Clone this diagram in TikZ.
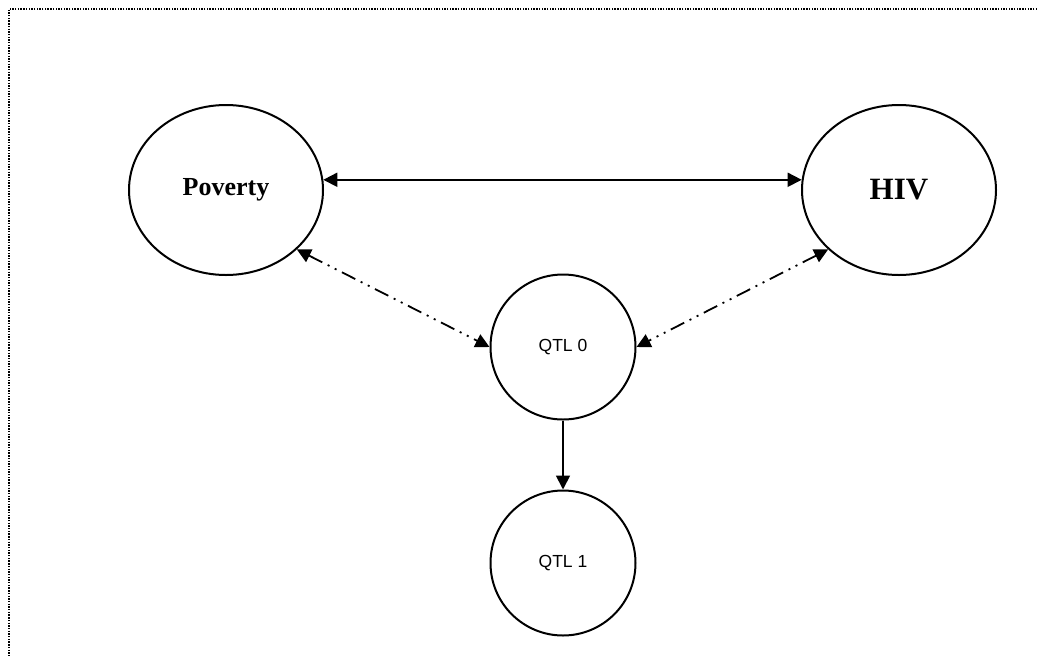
\documentclass[tikz,border=0pt]{standalone}
\usepackage{fontspec}
\setmainfont{Liberation Serif}
\newfontfamily\qtlfont{Liberation Sans}
\usetikzlibrary{shapes.geometric,arrows.meta}
\begin{document}
\begin{tikzpicture}[x=1pt,y=-1pt,
  bigell/.style={draw,line width=2pt,ellipse,inner sep=0pt,minimum width=194pt,minimum height=170pt,font=\bfseries},
  qtl/.style={draw,line width=2pt,circle,inner sep=0pt,minimum size=145pt,font=\qtlfont\fontsize{17.5}{20}\selectfont},
  link/.style={line width=1.8pt,-{Triangle[length=14pt,width=14pt]}},
  dlink/.style={line width=1.8pt,{Triangle[length=14pt,width=14pt]}-{Triangle[length=14pt,width=14pt]}},
  ddlink/.style={dlink,dash pattern=on 15pt off 6pt on 2pt off 6pt on 2pt off 6pt}]
\useasboundingbox (0,0) rectangle (1037,657);
\draw[line width=2pt,dash pattern=on 1.4pt off 1.3pt] (1037,9) -- (9,9) -- (9,657);
\node[bigell,font=\bfseries\fontsize{26}{30}\selectfont] (pov) at (226,190) {Poverty};
\node[bigell,font=\bfseries\fontsize{31}{36}\selectfont] (hiv) at (899,190) {HIV};
\node[qtl] (q0) at (563,347) {QTL 0};
\node[qtl] (q1) at (563,563) {QTL 1};
\draw[dlink] (pov.6) -- (hiv.174);
\draw[ddlink] (pov.-40) -- (q0.west);
\draw[ddlink] (hiv.220) -- (q0.east);
\draw[link] (q0.south) -- (q1.north);
\end{tikzpicture}
\end{document}
